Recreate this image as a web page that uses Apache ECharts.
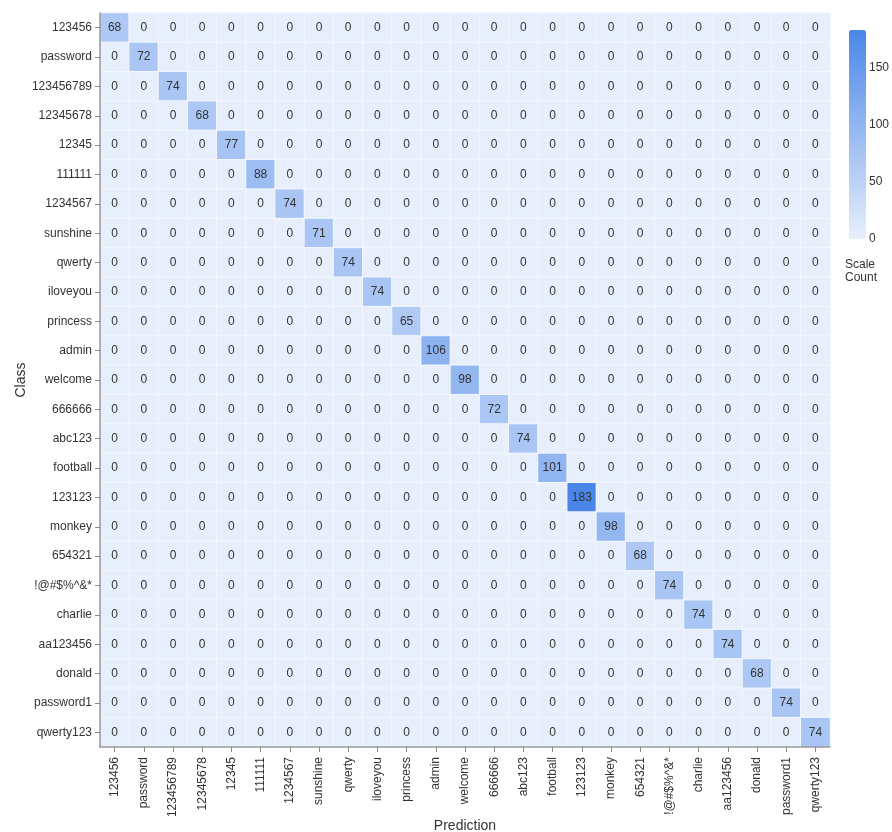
<!DOCTYPE html>
<html>
<head>
<meta charset="utf-8">
<script src="https://cdn.jsdelivr.net/npm/echarts@6/dist/echarts.min.js"></script>
<style>
  html, body { margin: 0; padding: 0; background: #fff; }
</style>
</head>
<body>
<div id="chart" style="width: 892px; height: 832px;"></div>
<script>
// class labels (same order for rows and columns)
const classes = ['123456', 'password', '123456789', '12345678', '12345', '111111', '1234567',
  'sunshine', 'qwerty', 'iloveyou', 'princess', 'admin', 'welcome', '666666', 'abc123',
  'football', '123123', 'monkey', '654321', '!@#$%^&*', 'charlie', 'aa123456', 'donald',
  'password1', 'qwerty123'];
// diagonal counts (all off-diagonal cells are 0)
const diagCounts = [68, 72, 74, 68, 77, 88, 74, 71, 74, 74, 65, 106, 98, 72, 74, 101, 183,
  98, 68, 74, 74, 74, 68, 74, 74];
const scaleTicks = [0, 50, 100, 150];
const scaleMax = 183;

const cells = [];
for (let r = 0; r < classes.length; r++) {
  for (let c = 0; c < classes.length; c++) {
    cells.push([c, r, r === c ? diagCounts[r] : 0]);
  }
}

const chart = echarts.init(document.getElementById('chart'));
const font = 'Arial, "Liberation Sans", sans-serif';

const option = {
  animation: false,
  textStyle: { fontFamily: font },
  grid: [
    { left: 100, top: 13, width: 730, height: 734, outerBoundsMode: 'none' },
    // grid used only for the colour scale labels
    { left: 849, top: 30, width: 17, height: 209, outerBoundsMode: 'none' }
  ],
  xAxis: [
    {
      type: 'category',
      gridIndex: 0,
      data: classes,
      z: 10,
      name: 'Prediction',
      nameLocation: 'middle',
      nameGap: 72,
      nameMoveOverlap: false,
      nameTextStyle: { fontSize: 14, color: '#333' },
      axisLine: { show: true, lineStyle: { color: '#999', width: 1.5 } },
      axisTick: { show: true, alignWithLabel: true, length: 5, lineStyle: { color: '#888' } },
      axisLabel: { rotate: 90, interval: 0, fontSize: 12, color: '#333', margin: 10 },
      splitArea: { show: false }
    },
    { type: 'value', gridIndex: 1, show: false }
  ],
  yAxis: [
    {
      type: 'category',
      gridIndex: 0,
      data: classes,
      inverse: true,
      z: 10,
      name: 'Class',
      nameLocation: 'middle',
      nameGap: 72,
      nameMoveOverlap: false,
      nameTextStyle: { fontSize: 14, color: '#333' },
      axisLine: { show: true, lineStyle: { color: '#999', width: 1.5 } },
      axisTick: { show: true, alignWithLabel: true, length: 5, lineStyle: { color: '#888' } },
      axisLabel: { interval: 0, fontSize: 12, color: '#333', margin: 8 },
      splitArea: { show: false }
    },
    {
      type: 'value',
      gridIndex: 1,
      min: 0,
      max: scaleMax,
      interval: 50,
      position: 'right',
      axisLine: { show: false },
      axisTick: { show: false },
      splitLine: { show: false },
      axisLabel: {
        fontSize: 12, color: '#333', margin: 3,
        formatter: v => scaleTicks.includes(v) ? String(v) : ''
      }
    }
  ],
  visualMap: {
    type: 'continuous',
    min: 0,
    max: scaleMax,
    seriesIndex: 0,
    calculable: false,
    orient: 'vertical',
    left: 849,
    top: 30,
    itemWidth: 17,
    itemHeight: 209,
    padding: 0,
    text: ['', ''],
    showLabel: false,
    inRange: { color: ['#e8effc', '#4a86e8'] }
  },
  graphic: [
    {
      type: 'text',
      left: 845,
      top: 258,
      style: { text: 'Scale\nCount', fontSize: 12, lineHeight: 13, fill: '#333', fontFamily: font }
    }
  ],
  series: [
    {
      type: 'heatmap',
      xAxisIndex: 0,
      yAxisIndex: 0,
      data: cells,
      label: { show: true, fontSize: 12, color: '#333' },
      itemStyle: { borderColor: '#f4f7fd', borderWidth: 1 },
      emphasis: { disabled: true }
    }
  ]
};

chart.setOption(option);
</script>
</body>
</html>
